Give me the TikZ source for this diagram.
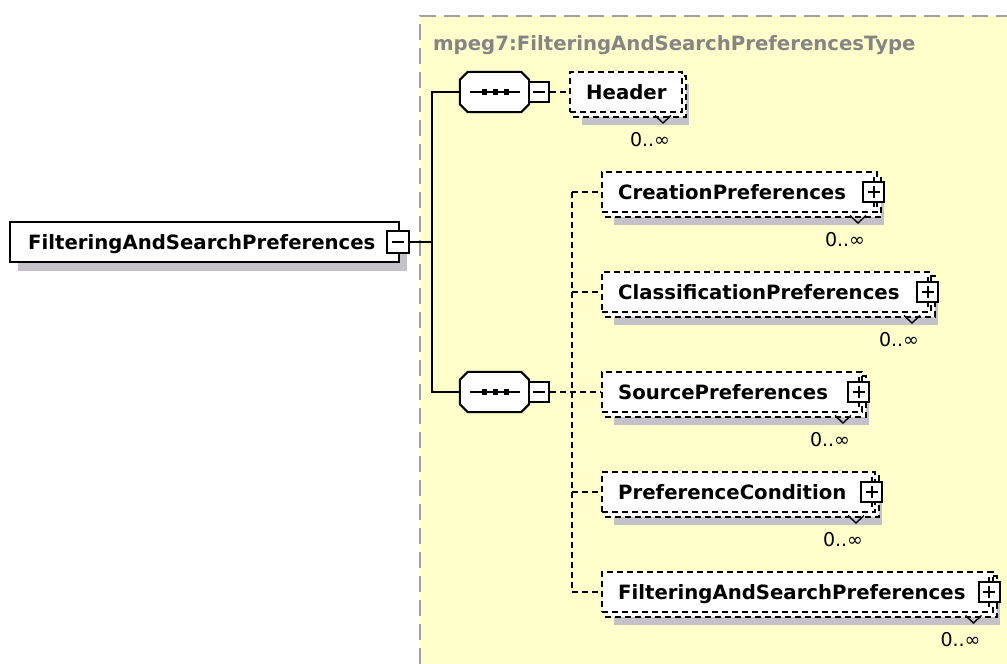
\documentclass[tikz,border=0pt]{standalone}
\usepackage{fontspec}
\setmainfont{DejaVu Sans}
\usetikzlibrary{shadows,calc}
\definecolor{bgyellow}{HTML}{FFFFCC}
\definecolor{shadowc}{HTML}{C4C2C8}
\definecolor{titlegray}{HTML}{858585}
\definecolor{bordergray}{HTML}{A0A0A0}
\tikzset{
  conn/.style={line width=2pt},
  dconn/.style={line width=2pt, dash pattern=on 6pt off 4pt},
  mainbox/.style={draw, line width=2pt, fill=white, rectangle, inner sep=0pt,
    drop shadow={shadow xshift=8pt, shadow yshift=-9pt, fill=shadowc, opacity=1}},
  ebox/.style={draw, line width=2pt, dash pattern=on 6pt off 4pt, fill=white, rectangle, inner sep=0pt},
  minusbox/.style={draw, line width=2pt, fill=white, rectangle, inner sep=0pt,
    minimum width=20pt, minimum height=20pt,
    path picture={\draw[line width=2pt] ([xshift=-6pt]path picture bounding box.center) -- ([xshift=6pt]path picture bounding box.center);}},
  plusbox/.style={draw, line width=2pt, fill=white, rectangle, inner sep=0pt,
    minimum width=21pt, minimum height=20pt,
    path picture={\draw[line width=2pt] ([xshift=-6pt]path picture bounding box.center) -- ([xshift=6pt]path picture bounding box.center);
      \draw[line width=2pt] ([yshift=-6pt]path picture bounding box.center) -- ([yshift=6pt]path picture bounding box.center);}},
  seqanchor/.style={rectangle, inner sep=0pt, minimum width=69pt, minimum height=40pt},
  etext/.style={font=\bfseries\fontsize{19.7}{20}\selectfont, inner sep=0pt, anchor=base west},
  lbl/.style={font=\fontsize{19}{20}\selectfont, inner sep=0pt},
}
% #1 name, #2 L, #3 T, #4 R, #5 B, #6 text
\newcommand\elembox[6]{%
  \fill[shadowc] (#2+12,#3+12) rectangle (#4+7,#5+13);
  \draw[ebox] (#2+4,#3+4) rectangle (#4+4,#5+5);
  \node[ebox, minimum width={(#4)-(#2)}, minimum height={(#5)-(#3)}] (#1) at ({(#2+#4)/2},{(#3+#5)/2}) {};
  \node[etext] (#1-t) at (#2+16,{(#3+#5)/2+7}) {#6};
  \node[lbl] (#1-m) at (#4-32,#5+28) {0..∞};
  \draw[line width=1.4pt] (#4-27,#5+3.5) -- (#4-19,#5+11) -- (#4-11,#5+3.5);
}
% #1 name, #2 x center, #3 y center
\newcommand\plusat[3]{%
  \node[plusbox] (#1) at (#2,#3) {};
  \draw[line width=2pt] (#1.north) -- ++(0,-4);
  \draw[line width=2pt] (#1.south) -- ++(0,4);
}
\newcommand\octpath[1]{($(#1.north west)+(8,0)$) -- ($(#1.north east)+(-8,0)$) -- ($(#1.north east)+(0,8)$) -- ($(#1.south east)+(0,-8)$) -- ($(#1.south east)+(-8,0)$) -- ($(#1.south west)+(8,0)$) -- ($(#1.south west)+(0,-8)$) -- ($(#1.north west)+(0,8)$) -- cycle}
% #1 name, #2 cx, #3 cy
\newcommand\seqnode[3]{%
  \node[seqanchor] (#1) at (#2,#3) {};
  \begin{scope}[shift={(8,8)}]
    \fill[shadowc] \octpath{#1};
  \end{scope}
  \draw[line width=2pt, fill=white] \octpath{#1};
  \draw[line width=2pt] ([xshift=-24.5pt]#1.center) -- ([xshift=25.5pt]#1.center);
  \foreach \d in {-10,1,12}{
    \fill ([xshift=\d pt]#1.center) +(-2.8,-2.8) rectangle +(2.8,2.8);
  }
}
\begin{document}
\begin{tikzpicture}[x=1pt,y=-1pt]
\useasboundingbox (0,0) rectangle (1007,664);
\fill[white] (0,0) rectangle (1007,664);
% type background
\fill[bgyellow] (420,16) rectangle (1007,664);
\draw[bordergray, line width=2pt, dash pattern=on 16pt off 8pt] (420,664) -- (420,16) -- (1007,16);
\node[etext, text=titlegray] (title) at (433,50) {mpeg7:FilteringAndSearchPreferencesType};

% main element
\node[mainbox, minimum width=389pt, minimum height=40pt] (main) at (204.5,242) {};
\node[etext] (main-t) at (28,249) {FilteringAndSearchPreferences};
\node[minusbox, minimum width=22pt, minimum height=22pt] (mm) at (398,242) {};

% sequences
\seqnode{seq1}{494.5}{92}
\node[minusbox] (sm1) at (539,92) {};
\seqnode{seq2}{494.5}{392}
\node[minusbox] (sm2) at (539,392) {};

% solid connectors
\coordinate (j) at (432,242);
\draw[conn] (mm.east) -- (j);
\draw[conn] (seq1.west) -- (seq1.west -| j) -- (seq2.west -| j) -- (seq2.west);

% elements
\elembox{header}{570}{72}{682}{112}{Header}
\elembox{crea}{602}{172}{877}{212}{CreationPreferences}
\plusat{crea-p}{873.5}{192}
\elembox{clas}{602}{272}{931}{312}{ClassificationPreferences}
\plusat{clas-p}{927.5}{292}
\elembox{sour}{602}{372}{862}{412}{SourcePreferences}
\plusat{sour-p}{858.5}{392}
\elembox{pref}{602}{472}{875}{512}{PreferenceCondition}
\plusat{pref-p}{871.5}{492}
\elembox{fasp}{602}{572}{992.5}{612}{FilteringAndSearchPreferences}
\plusat{fasp-p}{989}{592}

% dashed connectors
\coordinate (v) at (572,392);
\draw[dconn] (sm1.east) -- (header.west);
\draw[dconn] (sm2.east) -- (sour.west);
\draw[dconn] (crea.west -| v) -- (fasp.west -| v);
\foreach \n in {crea,clas,pref,fasp}{
  \draw[dconn] (\n.west -| v) -- (\n.west);
}
\end{tikzpicture}
\end{document}
